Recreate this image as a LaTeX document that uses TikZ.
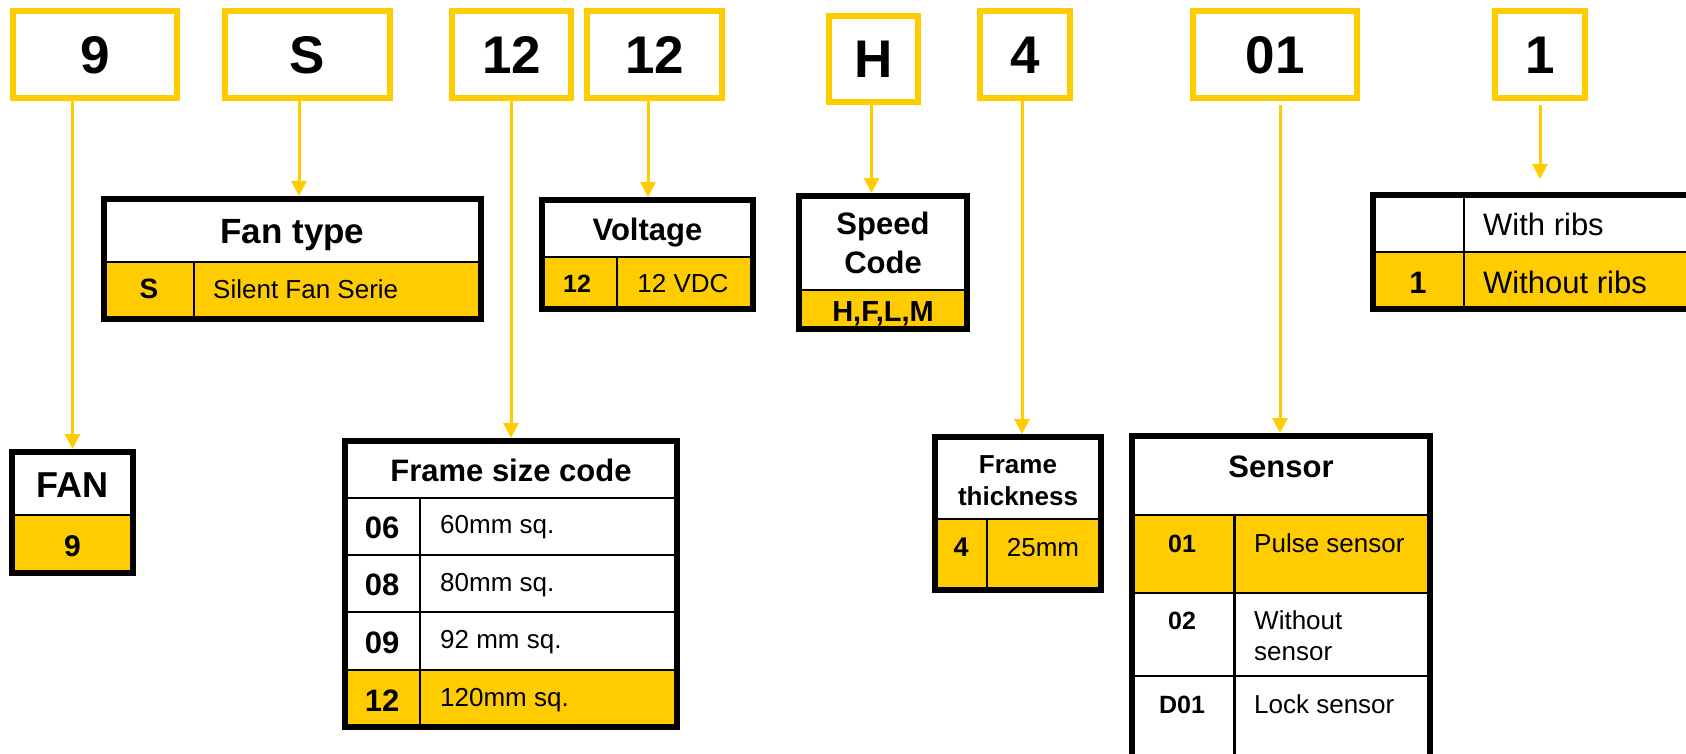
\documentclass[tikz,border=0pt]{standalone}
\usepackage{fontspec}
\setmainfont{Liberation Sans}
\usetikzlibrary{arrows.meta}
\definecolor{Cgold}{RGB}{255,204,0}

\begin{document}
\begin{tikzpicture}[x=1pt, y=-1pt,
    codebox/.style={draw=Cgold, line width=6pt, fill=white, inner sep=0pt,
      minimum height=87pt, font=\bfseries\fontsize{53}{60}\selectfont},
    feed/.style={Cgold, line width=3pt, -{Triangle[width=15pt,length=15pt]}},
    tabframe/.style={line width=6pt},
    tabline/.style={line width=2.5pt},
    txt/.style={inner sep=0pt, anchor=base}]
      % Visible sheet (tables run off the right and bottom edges)
      \useasboundingbox (0,0) rectangle (1686,754);
      \clip (0,0) rectangle (1686,754);
      % Code boxes on top
      \node[codebox, minimum width=164pt] (c9) at (95,55) {9};
      \node[codebox, minimum width=165pt] (cS) at (307.5,55) {S};
      \node[codebox, minimum width=119pt] (c12a) at (511.5,55) {12};
      \node[codebox, minimum width=135pt] (c12b) at (654.5,55) {12};
      \node[codebox, minimum width=89pt, minimum height=86pt] (cH) at (873.5,59) {H};
      \node[codebox, minimum width=90pt] (c4) at (1025,55) {4};
      \node[codebox, minimum width=164pt] (c01) at (1275,55) {01};
      \node[codebox, minimum width=90pt] (c1) at (1540,55) {1};
      % Arrow ends on the tables
      \coordinate (aFAN) at (72.5,449);
      \coordinate (aFan) at (299,196);
      \coordinate (aFrame) at (511,438);
      \coordinate (aVolt) at (648,197);
      \coordinate (aSpeed) at (871.5,193);
      \coordinate (aThick) at (1022,434);
      \coordinate (aSensor) at (1280,433);
      \coordinate (aRibs) at (1540,179);
      % Connectors
      \draw[feed] (c9.south -| aFAN) -- (aFAN);
      \draw[feed] (cS.south -| aFan) -- (aFan);
      \draw[feed] (c12a.south -| aFrame) -- (aFrame);
      \draw[feed] (c12b.south -| aVolt) -- (aVolt);
      \draw[feed] (cH.south -| aSpeed) -- (aSpeed);
      \draw[feed] (c4.south -| aThick) -- (aThick);
      \draw[feed, shorten <=4pt] (c01.south -| aSensor) -- (aSensor);
      \draw[feed, shorten <=4pt] (c1.south -| aRibs) -- (aRibs);
      % Fan type
      \fill[Cgold] (104,262) rectangle (481,319);
      \draw[tabline] (104,262) -- (481,262) (194,262) -- (194,319);
      \draw[tabframe] (104,199) rectangle (481,319);
      \node[txt, font=\bfseries\fontsize{35}{42}\selectfont] (tFan) at (292.5,243) {Fan type};
      \node[txt, font=\bfseries\fontsize{28}{34}\selectfont] (tFanS) at (149,298) {S};
      \node[txt, anchor=base west, font=\fontsize{26}{31}\selectfont] (tFanSd) at (213,298) {Silent Fan Serie};
      % Voltage
      \fill[Cgold] (542,257) rectangle (753,309);
      \draw[tabline] (542,257) -- (753,257) (617,257) -- (617,309);
      \draw[tabframe] (542,200) rectangle (753,309);
      \node[txt, font=\bfseries\fontsize{31}{37}\selectfont] (tVolt) at (647.5,240.5) {Voltage};
      \node[txt, font=\bfseries\fontsize{25}{30}\selectfont] (tVolt12) at (577,292.5) {12};
      \node[txt, font=\fontsize{26}{31}\selectfont] (tVoltd) at (683,292.5) {12 VDC};
      % Speed code
      \fill[Cgold] (798.5,290) rectangle (967,329);
      \draw[tabline] (798.5,290) -- (967,290);
      \draw[tabframe] (798.5,196) rectangle (967,329);
      \node[txt, align=center, font=\bfseries\fontsize{31}{39}\selectfont] (tSpeed) at (883,273) {Speed\\Code};
      \node[txt, font=\bfseries\fontsize{29}{35}\selectfont] (tSpeedc) at (883,321) {H,F,L,M};
      % Ribs
      \fill[Cgold] (1373,252) rectangle (1700,309);
      \draw[tabline] (1373,252) -- (1700,252) (1464,195) -- (1464,309);
      \draw[tabframe] (1373,195) rectangle (1700,309);
      \node[txt, anchor=base west, font=\fontsize{31}{37}\selectfont] (tRibsA) at (1483,235) {With ribs};
      \node[txt, font=\bfseries\fontsize{31}{37}\selectfont] (tRibs1) at (1418,293) {1};
      \node[txt, anchor=base west, font=\fontsize{31}{37}\selectfont] (tRibsB) at (1483,293) {Without ribs};
      % FAN
      \fill[Cgold] (12,515) rectangle (133,573);
      \draw[tabline] (12,515) -- (133,515);
      \draw[tabframe] (12,452) rectangle (133,573);
      \node[txt, font=\bfseries\fontsize{36}{43}\selectfont] (tFAN) at (72.5,497.5) {FAN};
      \node[txt, font=\bfseries\fontsize{30}{36}\selectfont] (tFAN9) at (72.5,556.5) {9};
      % Frame size code
      \fill[Cgold] (345,670) rectangle (677,727);
      \foreach \yy in {498,555,612,670}
        \draw[tabline] (345,\yy) -- (677,\yy);
      \draw[tabline] (420,498) -- (420,727);
      \draw[tabframe] (345,441) rectangle (677,727);
      \node[txt, font=\bfseries\fontsize{31}{37}\selectfont] (tFrame) at (511,481.5) {Frame size code};
      \node[txt, font=\bfseries\fontsize{31}{37}\selectfont] (fc06) at (382,538) {06};
      \node[txt, font=\bfseries\fontsize{31}{37}\selectfont] (fc08) at (382,595) {08};
      \node[txt, font=\bfseries\fontsize{31}{37}\selectfont] (fc09) at (382,653) {09};
      \node[txt, font=\bfseries\fontsize{31}{37}\selectfont] (fc12) at (382,711) {12};
      \node[txt, anchor=base west, font=\fontsize{26}{31}\selectfont] (fd06) at (440,533) {60mm sq.};
      \node[txt, anchor=base west, font=\fontsize{26}{31}\selectfont] (fd08) at (440,591.5) {80mm sq.};
      \node[txt, anchor=base west, font=\fontsize{26}{31}\selectfont] (fd09) at (440,648) {92 mm sq.};
      \node[txt, anchor=base west, font=\fontsize{26}{31}\selectfont] (fd12) at (440,706) {120mm sq.};
      % Frame thickness
      \fill[Cgold] (935,519) rectangle (1100.5,590);
      \draw[tabline] (935,519) -- (1100.5,519) (987,519) -- (987,590);
      \draw[tabframe] (935,437) rectangle (1100.5,590);
      \node[txt, align=center, font=\bfseries\fontsize{26}{32}\selectfont] (tThick) at (1018,505) {Frame\\thickness};
      \node[txt, font=\bfseries\fontsize{27}{32}\selectfont] (tThick4) at (961,556) {4};
      \node[txt, font=\fontsize{26}{31}\selectfont] (tThickd) at (1043,556) {25mm};
      % Sensor
      \fill[Cgold] (1131.5,515) rectangle (1430,593);
      \foreach \yy in {515,593,676}
        \draw[tabline] (1131.5,\yy) -- (1430,\yy);
      \draw[tabline] (1234.5,515) -- (1234.5,770);
      \draw[tabframe] (1131.5,436) rectangle (1430,770);
      \node[txt, font=\bfseries\fontsize{31}{37}\selectfont] (tSensor) at (1281,477) {Sensor};
      \node[txt, font=\bfseries\fontsize{25}{30}\selectfont] (sc01) at (1182,552) {01};
      \node[txt, font=\bfseries\fontsize{25}{30}\selectfont] (sc02) at (1182,629) {02};
      \node[txt, font=\bfseries\fontsize{25}{30}\selectfont] (scD01) at (1182,713) {D01};
      \node[txt, anchor=base west, font=\fontsize{26}{31}\selectfont] (sd01) at (1254,552) {Pulse sensor};
      \node[txt, anchor=base west, align=left, font=\fontsize{26}{31}\selectfont] (sd02) at (1254,660) {Without\\sensor};
      \node[txt, anchor=base west, font=\fontsize{26}{31}\selectfont] (sdD01) at (1254,713) {Lock sensor};
    \end{tikzpicture}
\end{document}
